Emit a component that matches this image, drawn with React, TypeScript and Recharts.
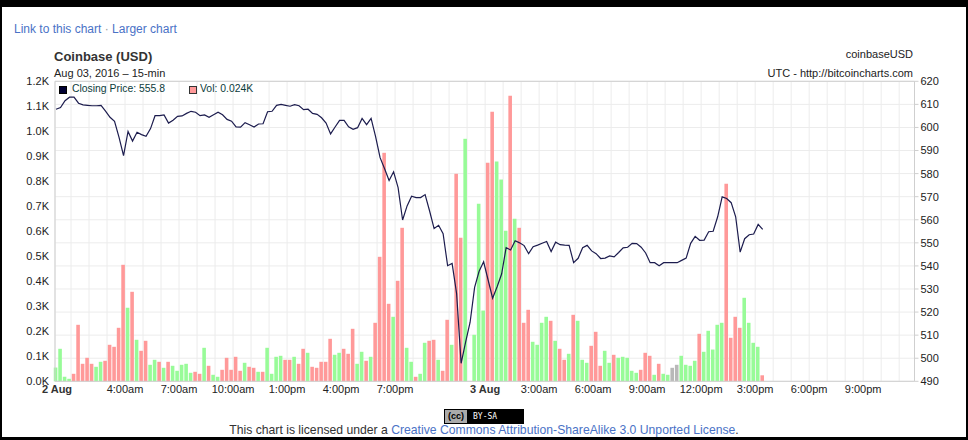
import React from 'react';
import { ComposedChart, Bar, Line, XAxis, YAxis, CartesianGrid, Cell, ReferenceLine } from 'recharts';

// 15-min bars, 2 Aug 2016 00:10 UTC onwards (hours after 2 Aug 00:00)
const FIRST_BAR_HOUR = 0.167;
const BAR_STEP_HOURS = 0.25;

// volume per bar (BTC)
const volumes = [
  55, 130, 18, 10, 30, 226, 70, 94, 70, 58,
  78, 82, 146, 138, 214, 466, 294, 358, 166, 122,
  162, 66, 86, 78, 54, 78, 62, 42, 66, 70,
  34, 38, 30, 134, 62, 26, 18, 46, 94, 46,
  98, 42, 74, 58, 54, 38, 38, 134, 30, 98,
  102, 86, 86, 98, 70, 130, 114, 58, 54, 78,
  78, 170, 106, 114, 130, 110, 210, 70, 118, 82,
  98, 234, 498, 914, 310, 258, 402, 614, 134, 78,
  18, 30, 154, 162, 166, 86, 42, 246, 146, 830,
  574, 970, 0, 186, 710, 283, 874, 1078, 879, 807,
  602, 1142, 650, 614, 234, 286, 158, 146, 234, 258,
  242, 162, 130, 86, 110, 266, 242, 86, 74, 142,
  198, 62, 122, 74, 106, 94, 98, 94, 42, 34,
  46, 114, 102, 26, 70, 30, 26, 54, 66, 102,
  66, 62, 82, 190, 118, 202, 127, 226, 234, 790,
  174, 258, 214, 334, 234, 154, 138, 24,
];

// closing price per bar (USD)
const prices = [
  607.9, 608.6, 611.6, 613.1, 613.1, 610.5, 609.8, 609.6, 609.4, 609.4,
  609.6, 607.1, 604.4, 602.7, 595.7, 587.8, 598.3, 594.1, 597.9, 596.9,
  596.2, 599.5, 605.1, 605.1, 605.4, 601.9, 603.1, 604.8, 605.0, 606.1,
  607.0, 606.6, 605.1, 605.4, 604.4, 605.5, 606.6, 605.5, 603.5, 602.7,
  600.2, 600.1, 602.1, 601.2, 600.2, 601.5, 601.6, 606.8, 607.0, 609.6,
  610.0, 609.6, 609.2, 609.9, 609.4, 607.7, 607.9, 606.1, 605.7, 604.2,
  601.9, 597.2, 600.2, 603.1, 603.1, 600.3, 599.2, 599.9, 603.9, 601.2,
  603.9, 596.0, 586.9, 582.1, 577.0, 580.8, 573.9, 559.9, 566.0, 570.2,
  569.6, 569.6, 570.9, 563.8, 556.2, 557.6, 554.0, 540.1, 541.1, 528.0,
  497.8, 507.0, 515.6, 530.7, 537.7, 541.8, 533.9, 526.0, 531.0, 536.5,
  547.9, 546.9, 550.9, 550.0, 548.8, 545.3, 548.3, 549.0, 549.8, 550.6,
  546.2, 550.3, 549.2, 549.0, 548.9, 541.4, 543.3, 547.9, 548.9, 546.5,
  545.3, 543.2, 543.4, 544.3, 543.9, 545.8, 547.8, 548.1, 549.8, 549.7,
  548.1, 545.6, 541.4, 541.4, 540.1, 541.4, 541.4, 541.4, 541.4, 542.4,
  543.4, 549.8, 552.8, 551.1, 551.2, 554.8, 555.0, 561.3, 569.9, 569.2,
  567.4, 561.3, 546.0, 551.8, 553.5, 553.8, 558.0, 555.8,
];

// bar colour: g = up, r = down, n = unchanged
const directions = (
  'ggggrrrrrg' + 'grrrrrgrgr' + 'rggrgrgggg' + 'grrgrggrrr' + 'rrgrrgrggg' +
  'grrgrrgrrr' + 'rrgg' + 'rrrggr' + 'grrrrgrrgg' + 'rggrrgrrgr' +
  'rgggggrrgg' + 'grgrrrgggg' + 'rgrrgrggg' + 'rrrggrgggg' + 'grrrgrggnn' +
  'ggggrggggg' + 'rrrrggggr'
).split('');

const labelHours = [0, 4, 7, 10, 13, 16, 19, 24, 27, 30, 33, 36, 39, 42, 45];
const labelTexts = ['2 Aug', '4:00am', '7:00am', '10:00am', '1:00pm', '4:00pm', '7:00pm', '3 Aug',
  '3:00am', '6:00am', '9:00am', '12:00pm', '3:00pm', '6:00pm', '9:00pm'];

const volTicks = [0, 100, 200, 300, 400, 500, 600, 700, 800, 900, 1000, 1100, 1200];
const priceTicks = [490, 500, 510, 520, 530, 540, 550, 560, 570, 580, 590, 600, 610, 620];

const X_DOMAIN: [number, number] = [0.11, 47.85];
const hourTicks = [X_DOMAIN[0], ...Array.from({ length: 47 }, (_, i) => i + 1)];

const colors: Record<string, string> = { g: '#98fb98', r: '#ff9999', n: '#b8b8b8' };

const data = volumes.map((v, i) => ({
  t: FIRST_BAR_HOUR + i * BAR_STEP_HOURS,
  vol: v,
  price: prices[i],
  dir: directions[i],
}));

const FONT = "Arial, 'Liberation Sans', sans-serif";
const LINK = '#4a72c6';

function labelFor(h: number) {
  const key = h === X_DOMAIN[0] ? 0 : h;
  const idx = labelHours.indexOf(key);
  return idx >= 0 ? labelTexts[idx] : '';
}

const TimeTick = (props: any) => {
  const { x, y, payload } = props;
  const label = labelFor(payload.value);
  if (!label) return <g />;
  const isDate = label.includes('Aug');
  return (
    <text
      x={x + (payload.value === X_DOMAIN[0] ? 2 : 0)}
      y={y}
      dy="0.71em"
      textAnchor="middle"
      fontSize={11}
      fontWeight={isDate ? 'bold' : 'normal'}
      fill={isDate ? '#333' : '#222'}
    >
      {label}
    </text>
  );
};

function CcBadge() {
  return (
    <div style={{ position: 'absolute', left: 444, top: 409, width: 78, height: 13, border: '1px solid #000', background: '#000', display: 'flex' }}>
      <div style={{ width: 22, background: '#aaa', fontSize: 9, fontWeight: 'bold', lineHeight: '13px', textAlign: 'center', color: '#000' }}>(cc)</div>
      <div style={{ flex: 1, color: '#fff', fontSize: 8, fontFamily: "'DejaVu Sans Mono', monospace", lineHeight: '13px', paddingLeft: 6 }}>BY-SA</div>
    </div>
  );
}

export default function App() {
  return (
    <div style={{ position: 'absolute', left: 0, top: 0, width: 968, height: 440, background: '#000', fontFamily: FONT }}>
      <div style={{ position: 'absolute', left: 2, top: 7, width: 964, height: 430, background: '#fff' }} />

      <div style={{ position: 'absolute', left: 14, top: 22, fontSize: 12, color: LINK, whiteSpace: 'nowrap' }}>
        Link to this chart <span style={{ color: '#999' }}>·</span> Larger chart
      </div>
      <div style={{ position: 'absolute', left: 54, top: 49, fontSize: 13, fontWeight: 'bold', color: '#333' }}>Coinbase (USD)</div>
      <div style={{ position: 'absolute', left: 54, top: 67, fontSize: 11, color: '#222' }}>Aug 03, 2016 – 15-min</div>
      <div style={{ position: 'absolute', right: 968 - 913, top: 48, fontSize: 11, color: '#222' }}>coinbaseUSD</div>
      <div style={{ position: 'absolute', right: 968 - 913, top: 67, fontSize: 11, color: '#222' }}>UTC - http://bitcoincharts.com</div>

      <div style={{ position: 'absolute', left: 0, top: 0 }}>
        <ComposedChart
          width={968}
          height={440}
          data={data}
          margin={{ top: 81.3, right: 8.5, bottom: 28.7, left: 10 }}
          style={{ fontFamily: FONT }}
        >
          <CartesianGrid yAxisId="price" stroke="#ececec" />
          <XAxis
            dataKey="t"
            type="number"
            domain={X_DOMAIN}
            ticks={hourTicks}
            interval={0}
            height={30}
            tickLine={false}
            tickSize={2}
            tickMargin={2}
            axisLine={{ stroke: '#cfcfcf' }}
            tick={<TimeTick />}
          />
          <YAxis
            yAxisId="vol"
            orientation="left"
            domain={[0, 1200]}
            ticks={volTicks}
            width={45}
            tickLine={false}
            tickSize={4}
            tickMargin={2}
            axisLine={{ stroke: '#cfcfcf' }}
            tick={{ fontSize: 11, fill: '#222' }}
            tickFormatter={(v: number) => (v / 1000).toFixed(1) + 'K'}
          />
          <YAxis
            yAxisId="price"
            orientation="right"
            domain={[490, 620]}
            ticks={priceTicks}
            width={45}
            tickSize={4}
            tickMargin={2}
            tickLine={{ stroke: '#cfcfcf' }}
            axisLine={{ stroke: '#cfcfcf' }}
            tick={{ fontSize: 11, fill: '#222' }}
          />
          <Bar yAxisId="vol" dataKey="vol" barSize={3.6} isAnimationActive={false}>
            {data.map((d, i) => (
              <Cell key={i} fill={colors[d.dir]} />
            ))}
          </Bar>
          <Line
            yAxisId="price"
            dataKey="price"
            type="linear"
            stroke="#1c1c4e"
            strokeWidth={1.2}
            dot={false}
            activeDot={false}
            isAnimationActive={false}
          />
          <ReferenceLine yAxisId="price" y={620} stroke="#cfcfcf" />
        </ComposedChart>
      </div>

      <div style={{ position: 'absolute', left: 59, top: 86, width: 6, height: 6, background: '#000033', border: '1px solid #000' }} />
      <div style={{ position: 'absolute', left: 72, top: 83, fontSize: 10.4, color: '#0b3b3b', whiteSpace: 'nowrap' }}>Closing Price: 555.8</div>
      <div style={{ position: 'absolute', left: 189, top: 86, width: 6, height: 6, background: '#ff9999', border: '1px solid #333' }} />
      <div style={{ position: 'absolute', left: 200, top: 83, fontSize: 10.4, color: '#0b3b3b', whiteSpace: 'nowrap' }}>Vol: 0.024K</div>

      <CcBadge />
      <div style={{ position: 'absolute', left: 2, width: 964, top: 423, fontSize: 12.2, textAlign: 'center', color: '#333', whiteSpace: 'nowrap' }}>
        This chart is licensed under a <span style={{ color: LINK }}>Creative Commons Attribution-ShareAlike 3.0 Unported License</span>.
      </div>
    </div>
  );
}
